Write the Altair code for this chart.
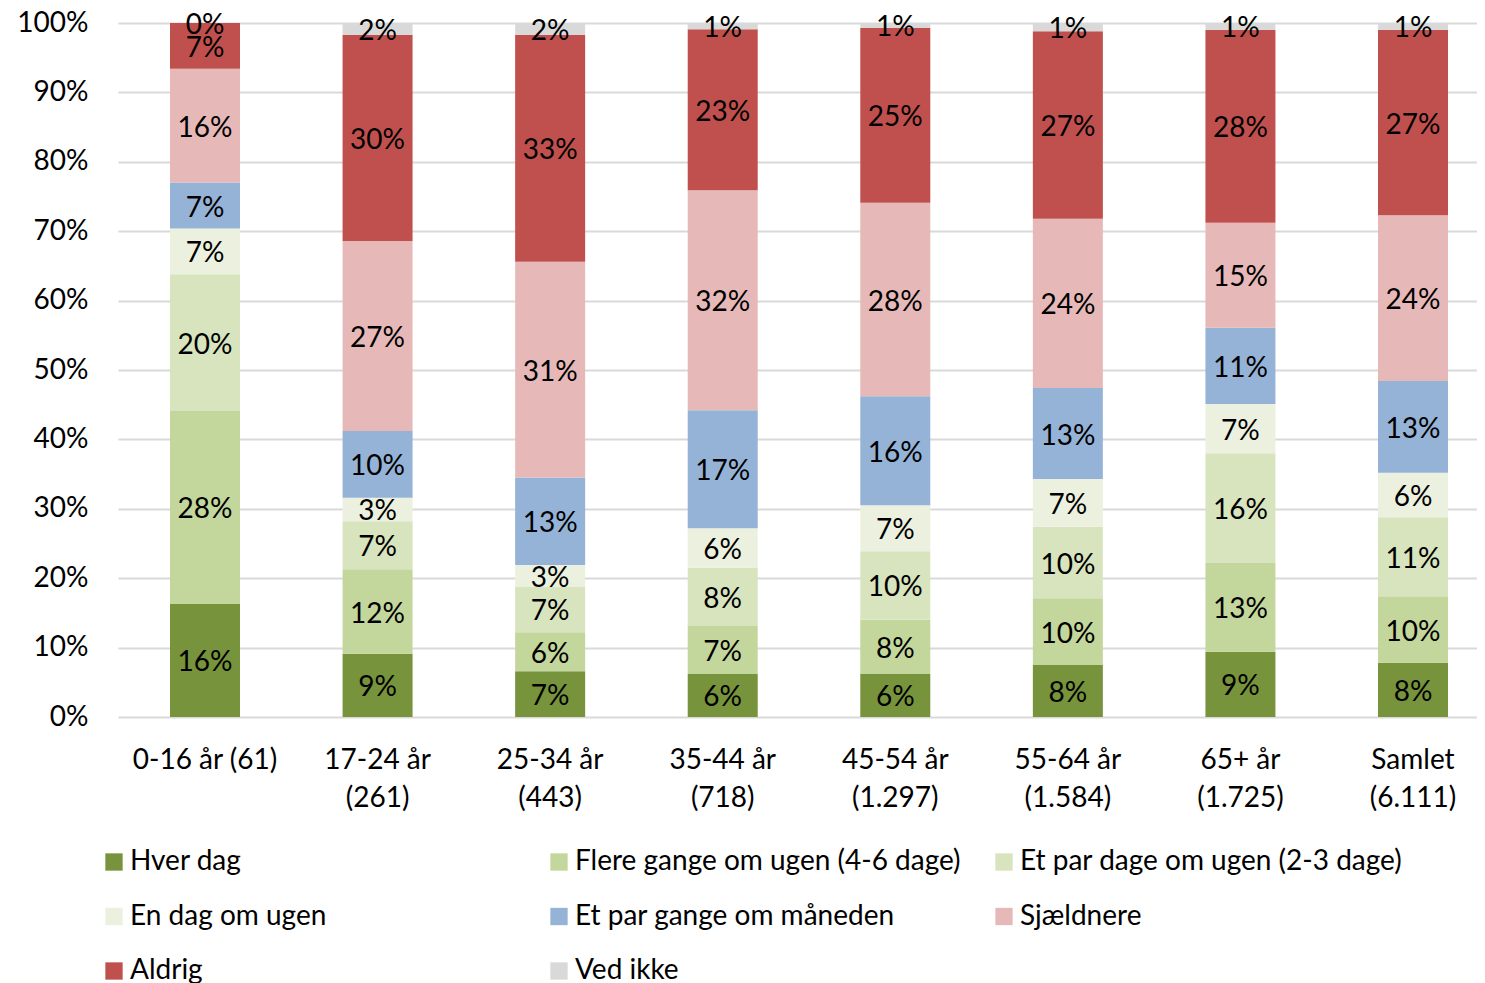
import altair as alt
import pandas as pd

categories = ["0-16 år (61)", "17-24 år\n(261)", "25-34 år\n(443)", "35-44 år\n(718)",
              "45-54 år\n(1.297)", "55-64 år\n(1.584)", "65+ år\n(1.725)", "Samlet\n(6.111)"]
series = ["Hver dag", "Flere gange om ugen (4-6 dage)", "Et par dage om ugen (2-3 dage)",
          "En dag om ugen", "Et par gange om måneden", "Sjældnere", "Aldrig", "Ved ikke"]
colors = ["#77933C", "#C3D69B", "#D7E4BD", "#EBF1DE", "#95B3D7", "#E6B9B8", "#C0504D", "#D9D9D9"]

hver_dag = [16.3, 9.1, 6.6, 6.2, 6.2, 7.5, 9.4, 7.8]
flere_gange = [27.8, 12.2, 5.6, 6.9, 7.8, 9.6, 12.8, 9.6]
et_par_dage = [19.7, 6.9, 6.6, 8.4, 9.9, 10.3, 15.8, 11.4]
en_dag = [6.6, 3.4, 3.1, 5.7, 6.6, 6.9, 7.1, 6.4]
et_par_gange = [6.6, 9.6, 12.6, 17.0, 15.7, 13.1, 11.0, 13.2]
sjaeldnere = [16.4, 27.4, 31.1, 31.7, 27.9, 24.4, 15.1, 23.9]
aldrig = [6.6, 29.7, 32.7, 23.2, 25.2, 27.0, 27.8, 26.7]
ved_ikke = [0.0, 1.7, 1.7, 0.9, 0.7, 1.2, 1.0, 1.0]

all_values = [hver_dag, flere_gange, et_par_dage, en_dag, et_par_gange, sjaeldnere, aldrig, ved_ikke]

rows = []
for si, (s, vals) in enumerate(zip(series, all_values)):
    for ci, c in enumerate(categories):
        rows.append({"cat": c, "series": s, "order": si, "value": vals[ci]})
df = pd.DataFrame(rows)

FONT = "Lato"
FS = 28

x_enc = alt.X("cat:N", sort=categories, title=None,
              scale=alt.Scale(paddingInner=0.5944, paddingOuter=0.2347, align=0.642),
              axis=alt.Axis(labelAngle=0, domain=False, ticks=False, labelPadding=29,
                            labelFontSize=FS, labelColor="#000000", labelFont=FONT,
                            labelLineHeight=38, labelExpr="split(datum.label, '\\n')"))

bars = alt.Chart(df).mark_bar().encode(
    x=x_enc,
    y=alt.Y("value:Q", stack="zero", scale=alt.Scale(domain=[0, 100], nice=False),
            title=None,
            axis=alt.Axis(values=list(range(0, 101, 10)), labelExpr="datum.value + '%'",
                          domain=False, ticks=False, labelPadding=30, labelFontSize=FS,
                          labelColor="#000000", labelFont=FONT, grid=True,
                          gridColor="#D9D9D9", gridWidth=2)),
    color=alt.Color("series:N", sort=series,
                    scale=alt.Scale(domain=series, range=colors),
                    legend=alt.Legend(title=None, orient="none", legendX=-18, legendY=825,
                                      direction="horizontal", columns=3, gridAlign="all",
                                      columnPadding=29, rowPadding=26.5, symbolType="square",
                                      symbolSize=300, symbolStrokeWidth=0, labelOffset=2,
                                      labelFontSize=FS, labelFont=FONT, labelColor="#000000",
                                      labelLimit=600)),
    order=alt.Order("order:Q", sort="ascending"),
)

labels = alt.Chart(df).transform_stack(
    stack="value", groupby=["cat"], sort=[alt.SortField("order", order="ascending")],
    as_=["y0", "y1"]
).transform_calculate(
    mid="(datum.y0 + datum.y1) / 2",
    lbl="format(datum.value, '.0f') + '%'"
).mark_text(fontSize=FS, font=FONT, color="#000000", baseline="middle", dy=3).encode(
    x=alt.X("cat:N", sort=categories),
    y=alt.Y("mid:Q"),
    text="lbl:N",
)

chart = alt.layer(bars, labels).properties(
    width=1359, height=694,
    autosize=alt.AutoSizeParams(type="none"),
    padding={"left": 110, "top": 15, "right": 0, "bottom": 266},
    background="#FFFFFF",
).configure_view(stroke=None)

chart.save("out.html", embed_options={"renderer": "svg", "actions": False})
